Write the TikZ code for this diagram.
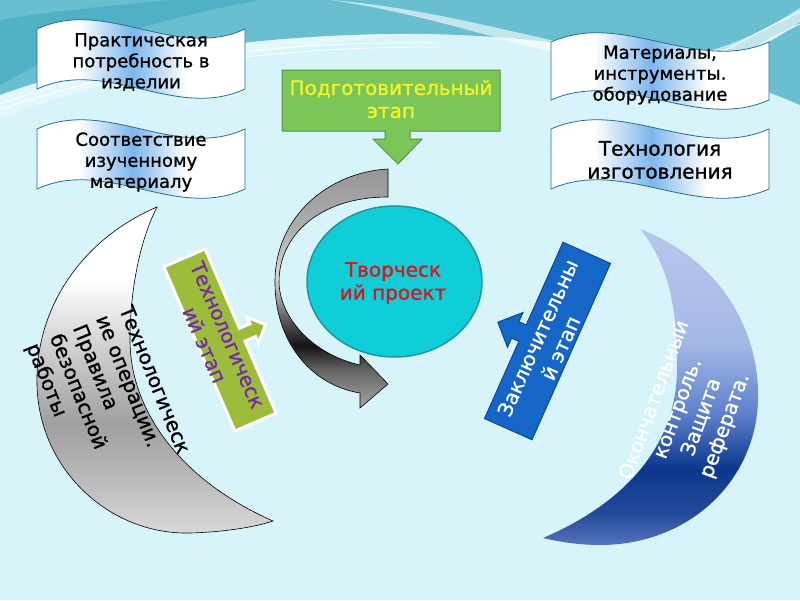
\documentclass[tikz,border=0pt]{standalone}
\usepackage{fontspec}
\setmainfont{DejaVu Sans}
\newfontfamily\heavyfont{DejaVu Sans}[FakeBold=1]
\usetikzlibrary{shapes.geometric}
\definecolor{bgc}{RGB}{214,244,249}
\definecolor{tealc}{RGB}{105,190,208}
\definecolor{teald}{RGB}{80,176,198}
\definecolor{boxblue}{RGB}{125,182,236}
\definecolor{boxline}{RGB}{40,110,140}
\definecolor{greenf}{RGB}{124,197,88}
\definecolor{greend}{RGB}{85,150,55}
\definecolor{yel}{RGB}{245,245,40}
\definecolor{olivef}{RGB}{158,188,60}
\definecolor{purp}{RGB}{112,48,160}
\definecolor{bluef}{RGB}{22,102,200}
\definecolor{blued}{RGB}{15,70,150}
\definecolor{ellf}{RGB}{16,206,216}
\definecolor{elld}{RGB}{30,150,160}
\definecolor{redt}{RGB}{220,20,30}
\definecolor{gc2}{RGB}{205,205,205}
\definecolor{gc3}{RGB}{160,160,160}
\definecolor{gc4}{RGB}{180,180,180}
\definecolor{gc5}{RGB}{218,218,218}
\definecolor{bc1}{RGB}{183,198,236}
\definecolor{bc2}{RGB}{165,185,230}
\definecolor{bc3}{RGB}{95,130,205}
\definecolor{bc4}{RGB}{12,55,140}
\definecolor{bc5}{RGB}{35,75,155}
\definecolor{bc6}{RGB}{85,115,185}
\definecolor{ca1}{RGB}{150,150,150}
\definecolor{ca2}{RGB}{175,175,175}
\definecolor{ca3}{RGB}{215,215,215}
\definecolor{ca4}{RGB}{70,70,70}
\definecolor{ca5}{RGB}{20,20,20}
\definecolor{ca6}{RGB}{100,100,100}
\definecolor{ca7}{RGB}{165,165,165}
\pgfdeclarehorizontalshading{boxsh}{100bp}{color(0bp)=(white); color(35bp)=(white); color(48bp)=(boxblue); color(61bp)=(white); color(100bp)=(white)}
\pgfdeclareverticalshading{graycres}{100bp}{color(0bp)=(gc5); color(25bp)=(gc5); color(35bp)=(gc4); color(42bp)=(gc3); color(53bp)=(gc2); color(64bp)=(white); color(100bp)=(white)}
\pgfdeclareverticalshading{bluecres}{100bp}{color(0bp)=(bc6); color(25bp)=(bc6); color(30bp)=(bc5); color(37bp)=(bc4); color(46bp)=(bc3); color(57bp)=(bc2); color(75bp)=(bc1); color(100bp)=(bc1)}
\pgfdeclareverticalshading{curvsh}{100bp}{color(0bp)=(ca7); color(25bp)=(ca7); color(33bp)=(ca6); color(38bp)=(ca5); color(42bp)=(ca4); color(52bp)=(ca3); color(62bp)=(ca2); color(75bp)=(ca1); color(100bp)=(ca1)}
\newcommand\wavebox[4]{%
  \pgfmathsetmacro\wva{#1+(#3-#1)/3}%
  \pgfmathsetmacro\wvb{#1+2*(#3-#1)/3}%
  \path[waveshape] (#1,#2) .. controls (\wva,#2-32) and (\wvb,#2+32) .. (#3,#2)
    -- (#3,#4) .. controls (\wvb,#4+32) and (\wva,#4-32) .. (#1,#4) -- cycle;}
\tikzset{
  waveshape/.style={draw=boxline, line width=0.8pt, shade, shading=boxsh},
  boxtext/.style={align=center, font=\heavyfont\fontsize{18}{21}\selectfont, text=black, inner sep=0pt},
  bigtext/.style={align=center, font=\heavyfont\fontsize{20}{25}\selectfont, inner sep=0pt},
}
\begin{document}
\begin{tikzpicture}[x=1pt,y=-1pt]
\useasboundingbox (0,0) rectangle (800,600);
% background
\fill[bgc] (0,0) rectangle (800,600);
\fill[tealc] (0,0) -- (800,0) -- (800,105) .. controls (720,70) and (600,38) .. (430,34)
   .. controls (270,32) and (110,55) .. (0,95) -- cycle;
\fill[teald] (0,20) .. controls (60,10) and (120,5) .. (170,0) -- (260,0) .. controls (150,20) and (60,50) .. (0,85) -- cycle;
\fill[white, opacity=0.35] (0,95) .. controls (110,55) and (270,32) .. (430,34)
   .. controls (300,42) and (120,72) .. (0,118) -- cycle;
\draw[white, line width=0.8pt] (0,104) .. controls (110,64) and (270,40) .. (440,43);
\draw[white, line width=0.8pt] (0,110) .. controls (110,70) and (270,46) .. (440,47);
\fill[white, opacity=0.6] (330,0) .. controls (430,8) and (520,35) .. (620,55)
   .. controls (690,68) and (750,40) .. (800,8) -- (800,22) .. controls (750,58) and (690,84) .. (620,68)
   .. controls (520,48) and (430,14) .. (330,0) -- cycle;
\draw[white, line width=0.8pt] (680,72) .. controls (720,55) and (760,30) .. (800,12);
\draw[white, line width=0.8pt] (690,80) .. controls (730,62) and (770,38) .. (800,24);

% wave boxes
\wavebox{37}{29}{245}{89}
\node[boxtext] (b1) at (141,62) {Практическая\\потребность в\\изделии};
\wavebox{37}{129}{245}{189}
\node[boxtext] (b2) at (141,162) {Соответствие\\изученному\\материалу};
\wavebox{551}{42}{769}{100}
\node[boxtext] (b3) at (660,75) {Материалы,\\инструменты.\\оборудование};
\wavebox{551}{129}{769}{189}
\node[boxtext, font=\heavyfont\fontsize{20}{23}\selectfont] (b4) at (660,160) {Технология\\изготовления};

% green preparatory callout
\path[fill=greenf, draw=greend, line width=1pt] (282,70) -- (500,70) -- (500,131) -- (410,131) -- (410,139)
   -- (422,139) -- (398,164) -- (373,139) -- (385,139) -- (385,131) -- (282,131) -- cycle;
\node[bigtext, text=yel, font=\heavyfont\fontsize{20}{23}\selectfont] (prep) at (391,99) {Подготовительный\\этап};

% left crescent
\path[draw=black, line width=0.6pt, shade, shading=graycres] (157,207) .. controls (80,240) and (35,310) .. (37,385)
   .. controls (39,470) and (110,535) .. (190,533) .. controls (225,532) and (255,527) .. (273,521)
   .. controls (180,480) and (130,410) .. (130,340) .. controls (130,290) and (140,240) .. (157,207) -- cycle;
\node[bigtext, align=left, rotate=-68] (lc) at (107,399) {Технологическ\\ие операции.\\Правила\\безопасной\\работы};

% right crescent
\path[shade, shading=bluecres] (640,229) .. controls (720,260) and (760,330) .. (758,400)
   .. controls (756,480) and (690,545) .. (600,545) .. controls (580,545) and (560,542) .. (543,538)
   .. controls (620,505) and (676,450) .. (677,370) .. controls (678,300) and (665,260) .. (640,229) -- cycle;
\node[bigtext, text=white, rotate=70] (rc) at (690,413) {Окончательный\\контроль.\\Защита\\реферата.};

% curved arrow
\path[draw=black, line width=0.6pt, shade, shading=curvsh] (388,169) .. controls (330,172) and (276,215) .. (275,280)
   .. controls (274,340) and (310,385) .. (360,393) -- (360,408) -- (388,384) -- (360,355) -- (360,365)
   .. controls (315,355) and (280,320) .. (279,282) .. controls (279,235) and (320,197) .. (388,197) -- cycle;

% ellipse
\node[ellipse, minimum width=175pt, minimum height=151pt, fill=ellf, draw=elld, line width=1.5pt, inner sep=0pt] (proj) at (394.5,281.5) {};
\node[bigtext, text=redt, font=\heavyfont\fontsize{20}{23}\selectfont] (projt) at (393,283) {Творческ\\ий проект};

% technological callout
\begin{scope}[shift={(220,340)}, rotate=-66.6]
\path[fill=olivef, draw=white, line width=3pt, line join=miter] (-89.5,22.5) -- (-89.5,-22.5) -- (-3,-22.5) -- (-3,-34) -- (-10,-34)
   -- (4,-48) -- (18,-34) -- (11,-34) -- (11,-22.5) -- (89.5,-22.5) -- (89.5,22.5) -- cycle;
\end{scope}
\node[bigtext, text=purp, rotate=-66.6] (tech) at (216,340) {Технологическ\\ий этап};

% final callout
\begin{scope}[shift={(547.5,341)}, rotate=66]
\path[fill=bluef, draw=blued, line width=1pt] (-96.5,26) -- (-96.5,-26) -- (-12,-26) -- (-12,-34) -- (-22,-34)
   -- (-3,-53) -- (16,-34) -- (6,-34) -- (6,-26) -- (96.5,-26) -- (96.5,26) -- cycle;
\end{scope}
\node[bigtext, text=white, rotate=66] (fin) at (549,343) {Заключительны\\й этап};
\end{tikzpicture}
\end{document}
